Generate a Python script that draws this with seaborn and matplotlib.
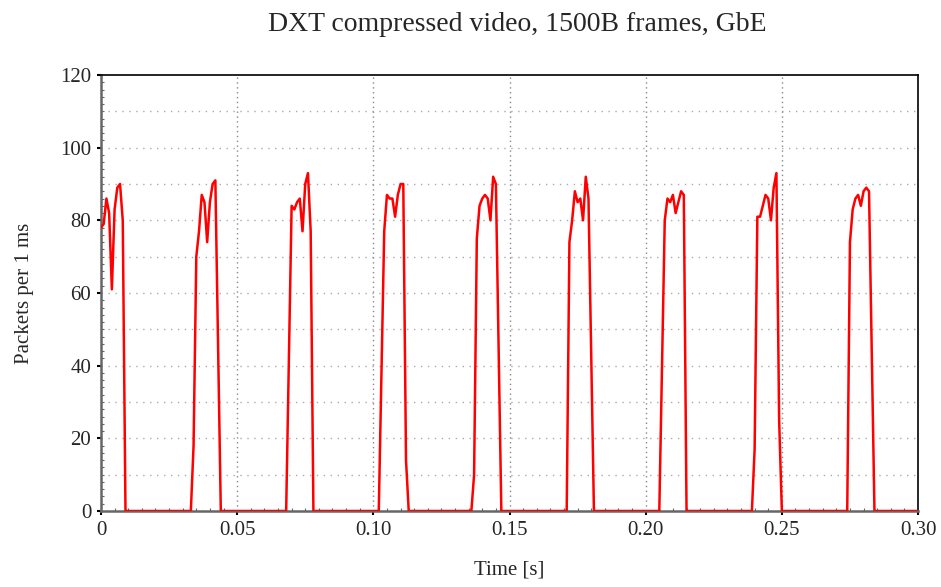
import numpy as np
import pandas as pd
import matplotlib
matplotlib.use('Agg')
import matplotlib.pyplot as plt
import seaborn as sns
from matplotlib.ticker import MultipleLocator

# Paquetes por milisegundo (cada rafaga = un frame de video)
burst_starts_ms = [0, 34, 69, 103, 137, 172, 206, 240, 275]
burst_1 = [78, 79, 86, 82, 61, 83, 89, 90, 80]
burst_2 = [18, 70, 77, 87, 85, 74, 85, 90, 91, 45]
burst_3 = [42, 84, 83, 85, 86, 77, 90, 93, 77]
burst_4 = [38, 77, 87, 86, 86, 81, 87, 90, 90, 14]
burst_5 = [10, 75, 84, 86, 87, 86, 80, 92, 90, 45]
burst_6 = [74, 80, 88, 85, 86, 80, 92, 86, 43]
burst_7 = [40, 80, 86, 85, 87, 82, 85, 88, 87]
burst_8 = [17, 81, 81, 84, 87, 86, 80, 89, 93, 25]
burst_9 = [74, 83, 86, 87, 84, 88, 89, 88, 44]
bursts = [burst_1, burst_2, burst_3, burst_4, burst_5, burst_6, burst_7, burst_8, burst_9]

total_ms = 300
x_ticks = [0, 0.05, 0.10, 0.15, 0.20, 0.25, 0.30]
x_tick_labels = ['0', '0.05', '0.10', '0.15', '0.20', '0.25', '0.30']
y_ticks = [0, 20, 40, 60, 80, 100, 120]

# Serie completa: cero fuera de las rafagas
packets = [0] * (total_ms + 1)
for start, values in zip(burst_starts_ms, bursts):
    for i, v in enumerate(values):
        packets[start + i] = v

df = pd.DataFrame()
df['time'] = [t / 1000 for t in range(total_ms + 1)]
df['packets'] = packets

sns.set_style('white')
plt.rcParams['font.family'] = ['Liberation Serif', 'DejaVu Serif']

fig = plt.figure(figsize=(9.41, 5.87), dpi=100)
ax = fig.add_axes([0.1073, 0.1295, 0.9756 - 0.1073, 0.8722 - 0.1295])

sns.lineplot(x='time', y='packets', data=df, ax=ax, color='#ff0000', linewidth=1.8, zorder=3)

ax.set_xlim(0, 0.30)
ax.set_ylim(0, 120)
ax.set_xticks(x_ticks)
ax.set_xticklabels(x_tick_labels)
ax.set_yticks(y_ticks)
ax.yaxis.set_minor_locator(MultipleLocator(2))
ax.xaxis.set_minor_locator(MultipleLocator(0.005))

# Rejilla punteada
for yv in range(10, 120, 10):
    ax.axhline(yv, color='#aaaaaa', linestyle=(0, (1, 4)), linewidth=1.0, zorder=1)
for xv in x_ticks[1:-1]:
    ax.axvline(xv, color='#888888', linestyle=(0, (1, 2.5)), linewidth=1.0, zorder=1)

for side in ['left', 'bottom']:
    ax.spines[side].set_color('#666666')
    ax.spines[side].set_linewidth(1.8)
for side in ['top', 'right']:
    ax.spines[side].set_color('black')
    ax.spines[side].set_linewidth(1.2)

ax.tick_params(axis='both', which='major', direction='out', length=3, width=1.5,
               color='black', labelsize=15, pad=4, left=True, bottom=True)
ax.tick_params(axis='both', which='minor', direction='in', length=2, width=0.8,
               color='#666666', left=True, bottom=True)

ax.set_xlabel('Time [s]', fontsize=15, labelpad=15)
ax.set_ylabel('Packets per 1 ms', fontsize=15, labelpad=19)
ax.set_title('DXT compressed video, 1500B frames, GbE', fontsize=20, pad=32, x=0.509)

plt.savefig('out.png', dpi=100)
